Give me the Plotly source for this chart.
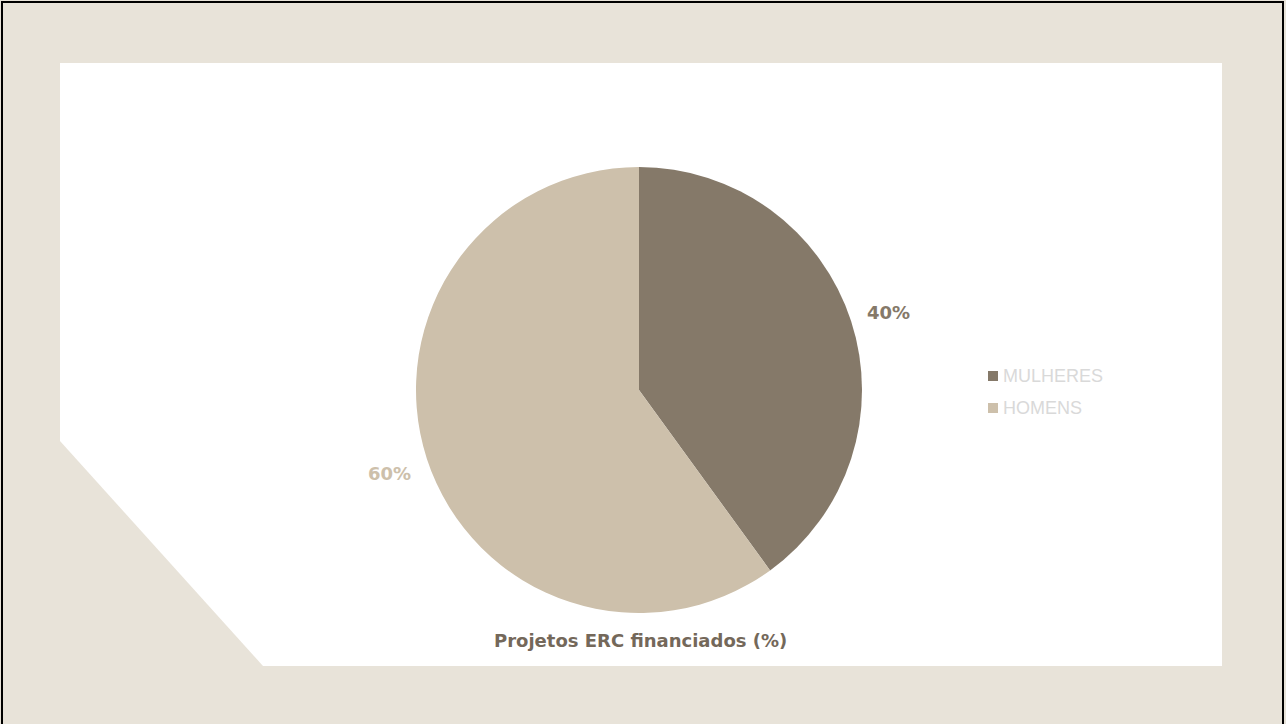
import math
import plotly.graph_objects as go

categories = ["MULHERES", "HOMENS"]
values = [40, 60]
colors = ["#857969", "#CDC0AB"]
title_text = "Projetos ERC financiados (%)"

W, H = 1286, 724
BG = "#E8E3D9"

# pie geometry (pixels)
cx, cy, r = 639, 390, 223
dom_x = [(cx - r) / W, (cx + r) / W]
dom_y = [(H - cy - r) / H, (H - cy + r) / H]

fig = go.Figure()
fig.add_trace(go.Pie(
    labels=categories, values=values, sort=False, direction="clockwise",
    rotation=0, marker=dict(colors=colors, line=dict(width=0)),
    textinfo="none", hoverinfo="label+percent",
    domain=dict(x=dom_x, y=dom_y), showlegend=False,
))

shapes = []
# outer black frame
shapes.append(dict(type="rect", xref="paper", yref="paper",
                   x0=2 / W, x1=1283 / W, y0=-0.05, y1=1 - 2 / H,
                   line=dict(color="black", width=2), fillcolor=BG, layer="below"))
# white panel polygon with cut corner
pts = [(60, 63), (1222, 63), (1222, 666), (263, 666), (60, 441)]
path = "M " + " L ".join(f"{x / W},{1 - y / H}" for x, y in pts) + " Z"
shapes.append(dict(type="path", xref="paper", yref="paper", path=path,
                   fillcolor="white", line=dict(width=0), layer="below"))

annotations = []
total = sum(values)
cum = 0
label_r = 262
for v, c in zip(values, colors):
    mid = (cum + v / 2) / total * 360
    cum += v
    ang = math.radians(mid)
    x = cx + label_r * math.sin(ang)
    y = cy - label_r * math.cos(ang) + 3
    annotations.append(dict(x=x / W, y=1 - y / H, xref="paper", yref="paper",
                            text=f"<b>{round(v / total * 100)}%</b>", showarrow=False,
                            font=dict(family="DejaVu Sans", size=18, color=c),
                            xanchor="center", yanchor="middle"))
annotations.append(dict(x=640 / W, y=1 - 640 / H, xref="paper", yref="paper",
                        text=f"<b>{title_text}</b>", showarrow=False,
                        font=dict(family="DejaVu Sans", size=18, color="#74685A"),
                        xanchor="center", yanchor="middle"))

# custom legend
leg_x, leg_y0, leg_dy = 988, 376, 32
for i, (cat, c) in enumerate(zip(categories, colors)):
    yy = leg_y0 + i * leg_dy
    shapes.append(dict(type="rect", xref="paper", yref="paper",
                       x0=leg_x / W, x1=(leg_x + 10) / W,
                       y0=1 - (yy + 5) / H, y1=1 - (yy - 5) / H,
                       fillcolor=c, line=dict(width=0)))
    annotations.append(dict(x=(leg_x + 13) / W, y=1 - yy / H, xref="paper", yref="paper",
                            text=cat, showarrow=False, xanchor="left", yanchor="middle",
                            font=dict(family="Liberation Sans, Arial", size=18, color="#D9D9D9")))

fig.update_layout(
    width=W, height=H, autosize=False,
    margin=dict(l=0, r=0, t=0, b=0),
    paper_bgcolor=BG, plot_bgcolor=BG,
    shapes=shapes, annotations=annotations,
    showlegend=False,
)

fig.write_html("out.html", config={"displayModeBar": False},
               post_script="document.body.style.margin='0';document.body.style.overflow='hidden';")
